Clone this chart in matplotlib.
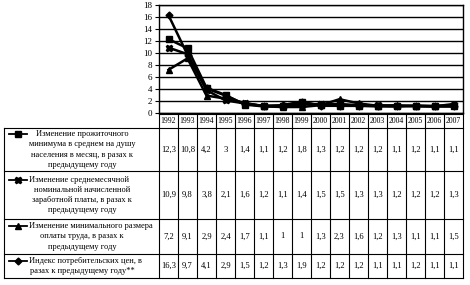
import matplotlib
matplotlib.use("Agg")
import matplotlib.pyplot as plt
import matplotlib.transforms as mtransforms

years = ["1992", "1993", "1994", "1995", "1996", "1997", "1998", "1999",
         "2000", "2001", "2002", "2003", "2004", "2005", "2006", "2007"]
subsistence = [12.3, 10.8, 4.2, 3, 1.4, 1.1, 1.2, 1.8, 1.3, 1.2, 1.2, 1.2, 1.1, 1.2, 1.1, 1.1]
wages = [10.9, 9.8, 3.8, 2.1, 1.6, 1.2, 1.1, 1.4, 1.5, 1.5, 1.3, 1.3, 1.2, 1.2, 1.2, 1.3]
min_wage = [7.2, 9.1, 2.9, 2.4, 1.7, 1.1, 1, 1, 1.3, 2.3, 1.6, 1.2, 1.3, 1.1, 1.1, 1.5]
cpi = [16.3, 9.7, 4.1, 2.9, 1.5, 1.2, 1.3, 1.9, 1.2, 1.2, 1.2, 1.1, 1.1, 1.2, 1.1, 1.1]
row_labels = [
    "Изменение прожиточного\nминимума в среднем на душу\nнаселения в месяц, в разах к\nпредыдущему году",
    "Изменение среднемесячной\nноминальной начисленной\nзаработной платы, в разах к\nпредыдущему году",
    "Изменение минимального размера\nоплаты труда, в разах к\nпредыдущему году",
    "Индекс потребительских цен, в\nразах к предыдущему году**",
]
y_ticks = list(range(0, 19, 2))

series = [subsistence, wages, min_wage, cpi]
markers = ["s", "X", "^", "D"]
msizes = [4, 5, 5, 3.5]

plt.rcParams["font.family"] = ["Liberation Serif", "DejaVu Serif"]

W, H = 470, 285
fig = plt.figure(figsize=(W / 100, H / 100), dpi=100)
fig.patch.set_facecolor("white")

# pixel layout
ax_l, ax_r, ax_t, ax_b = 159, 463, 5, 113
tab_l = 4
row_edges = [114, 128, 171, 219, 254, 278]

ax = fig.add_axes([ax_l / W, 1 - ax_b / H, (ax_r - ax_l) / W, (ax_b - ax_t) / H])
xs = list(range(len(years)))
for vals, m, ms in zip(series, markers, msizes):
    ax.plot(xs, vals, color="black", lw=1.8, marker=m, ms=ms, mfc="black", mec="black", zorder=3)
ax.set_xlim(-0.5, len(years) - 0.5)
ax.set_ylim(0, 18)
ax.set_yticks(y_ticks)
ax.set_yticklabels([str(t) for t in y_ticks], fontsize=6.5)
ax.set_xticks([])
ax.yaxis.grid(True, color="black", lw=1.0)
ax.set_axisbelow(True)
for s in ax.spines.values():
    s.set_color("black")
    s.set_linewidth(1.0)
ax.tick_params(axis="y", length=3, width=0.8, pad=2, color="black")

# table overlay in pixel coords
tax = fig.add_axes([0, 0, 1, 1], facecolor="none")
tax.set_xlim(0, W)
tax.set_ylim(H, 0)
tax.axis("off")
blend = mtransforms.blended_transform_factory(ax.transData, tax.transData)

lw = 0.8
tax.plot([ax_l, ax_r], [row_edges[0]] * 2, color="black", lw=lw)
for y in row_edges[1:]:
    tax.plot([tab_l, ax_r], [y, y], color="black", lw=lw)
tax.plot([tab_l, tab_l], [row_edges[1], row_edges[-1]], color="black", lw=lw)
for i in range(len(years) + 1):
    tax.plot([i - 0.5, i - 0.5], [row_edges[0], row_edges[-1]], color="black", lw=lw, transform=blend)

hy = (row_edges[0] + row_edges[1]) / 2
for i, yr in enumerate(years):
    tax.text(i, hy, yr, transform=blend, ha="center", va="center", fontsize=5.6)

lh = 10.2
label_fs = 6.0
for r, (vals, lab, m, ms) in enumerate(zip(series, row_labels, markers, msizes)):
    y0, y1 = row_edges[r + 1], row_edges[r + 2]
    yc = (y0 + y1) / 2
    for i, v in enumerate(vals):
        s = ("%g" % v).replace(".", ",")
        tax.text(i, yc, s, transform=blend, ha="center", va="center", fontsize=6.2)
    lines = lab.split("\n")
    nl = len(lines)
    fy = yc - (nl - 1) / 2 * lh
    for k, line in enumerate(lines):
        ly = fy + k * lh
        if k == 0 and r > 0:
            tax.text(29, ly, line, ha="left", va="center", fontsize=label_fs)
        else:
            tax.text(82, ly, line, ha="center", va="center", fontsize=label_fs)
    tax.plot([9, 27], [fy, fy], color="black", lw=1.3)
    tax.plot([18], [fy], marker=m, ms=ms, color="black")

fig.savefig("out.png", dpi=100, facecolor="white")
